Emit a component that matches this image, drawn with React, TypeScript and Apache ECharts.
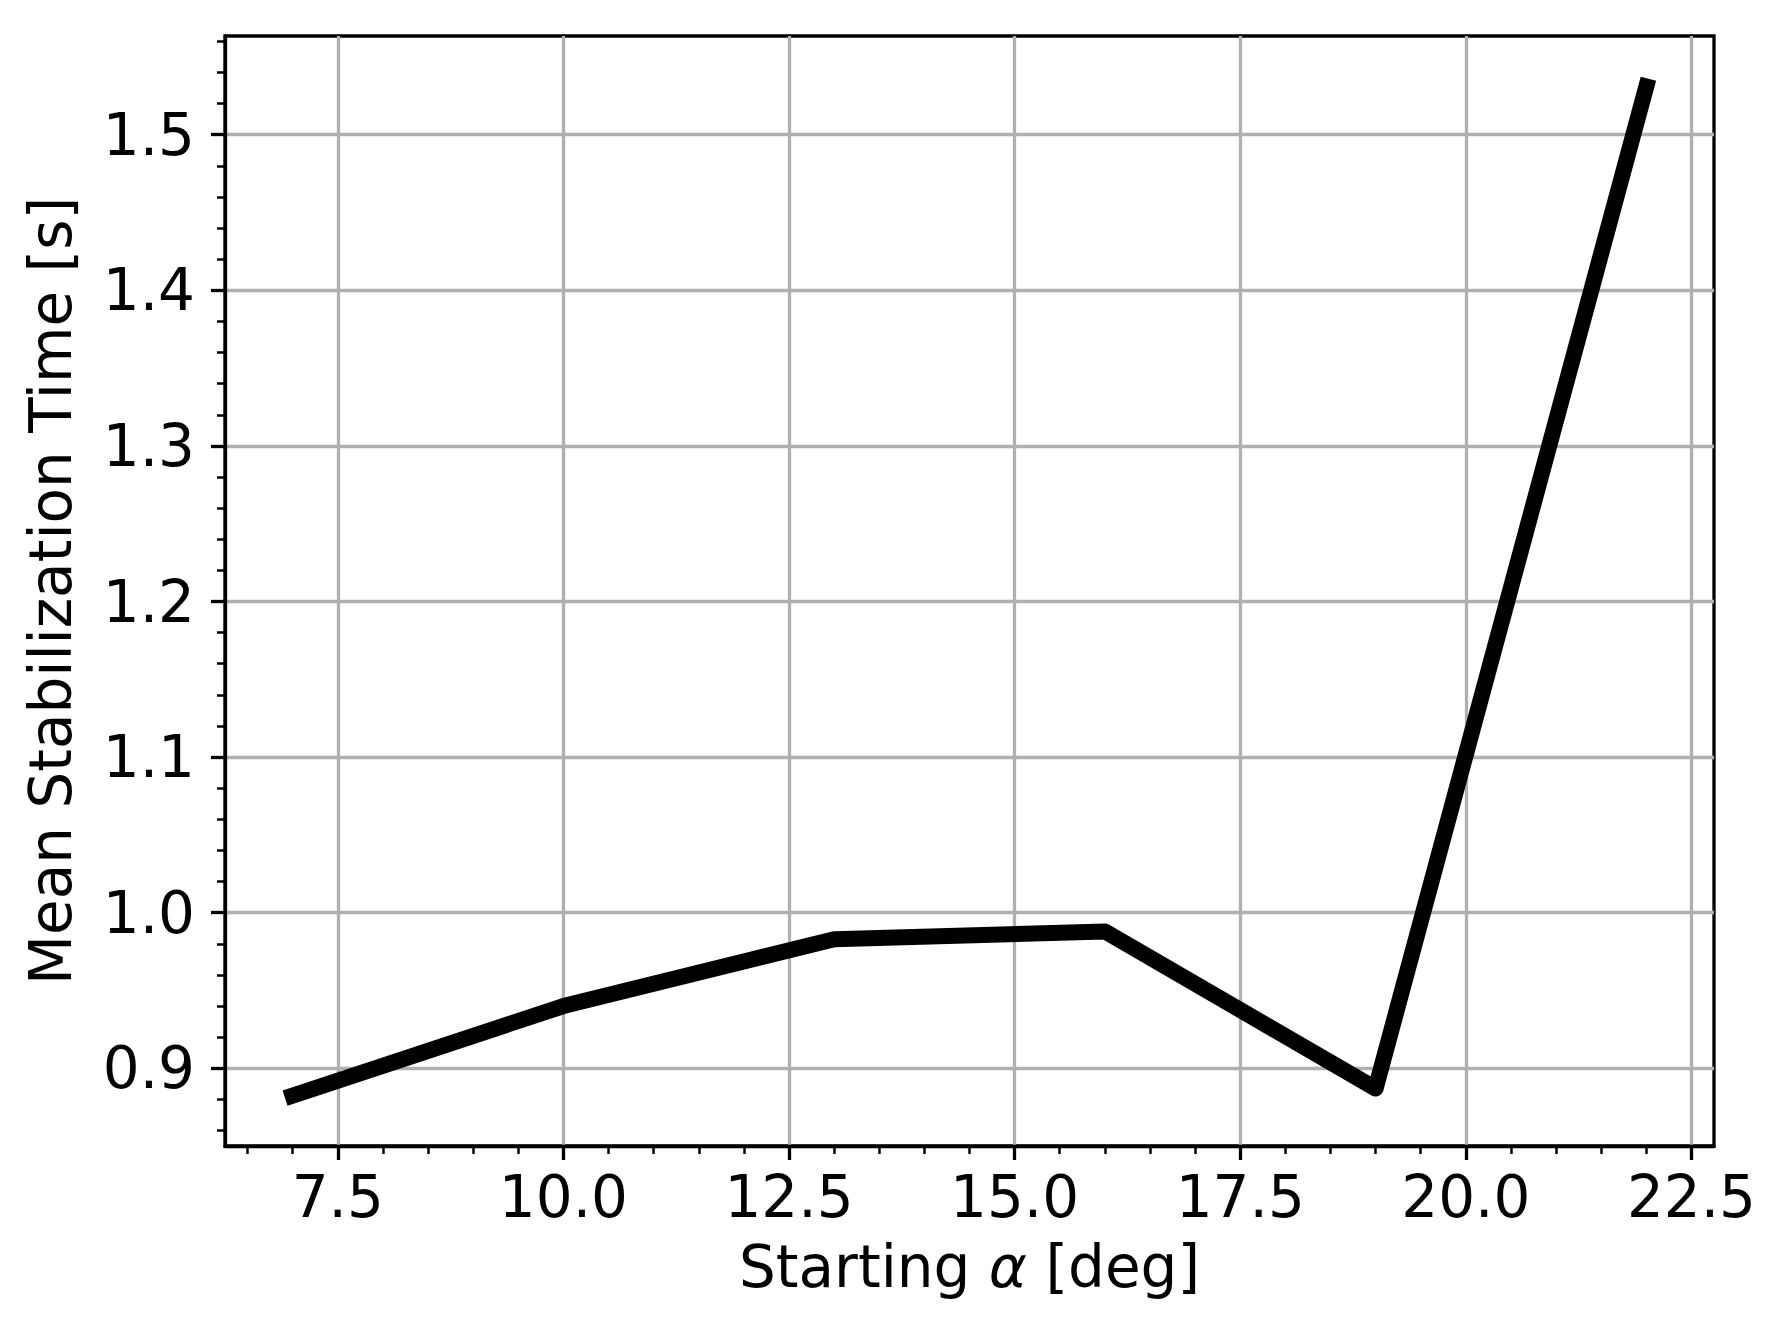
import { useEffect, useRef } from "react";
import * as echarts from "echarts";

// Starting angle of attack [deg] and mean stabilization time [s]
const startingAlpha = [7, 10, 13, 16, 19, 22];
const meanStabilizationTime = [0.8825, 0.94, 0.983, 0.988, 0.887, 1.531];

// Major tick labels
const xTickValues = [7.5, 10.0, 12.5, 15.0, 17.5, 20.0, 22.5];
const yTickValues = [0.9, 1.0, 1.1, 1.2, 1.3, 1.4, 1.5];

const FONT = "DejaVu Sans";

export default function App() {
  const chartRef = useRef<HTMLDivElement>(null);

  useEffect(() => {
    if (!chartRef.current) return;
    document.body.style.margin = "0";

    const chart = echarts.init(chartRef.current, undefined, { renderer: "svg" });

    // matplotlib-style 5% margins around the data
    const xSpan = Math.max(...startingAlpha) - Math.min(...startingAlpha);
    const ySpan =
      Math.max(...meanStabilizationTime) - Math.min(...meanStabilizationTime);
    const xMin = Math.min(...startingAlpha) - 0.05 * xSpan;
    const xMax = Math.max(...startingAlpha) + 0.05 * xSpan;
    const yMin = Math.min(...meanStabilizationTime) - 0.05 * ySpan;
    const yMax = Math.max(...meanStabilizationTime) + 0.05 * ySpan;

    const data = startingAlpha.map((x, i) => [x, meanStabilizationTime[i]]);

    const gridLine = { show: true, lineStyle: { color: "#b0b0b0", width: 3.3 } };

    chart.setOption({
      animation: false,
      backgroundColor: "#ffffff",
      textStyle: { fontFamily: FONT },
      grid: {
        left: 225,
        right: 66,
        top: 36,
        bottom: 192,
        show: true,
        borderColor: "#000000",
        borderWidth: 3.3,
        backgroundColor: "transparent",
      },
      xAxis: {
        type: "value",
        min: xMin,
        max: xMax,
        minInterval: 2.5,
        maxInterval: 2.5,
        name: "Starting {a|α} [deg]",
        nameLocation: "middle",
        nameGap: 92,
        nameMoveOverlap: false,
        nameTextStyle: {
          color: "#000000",
          fontSize: 58,
          fontFamily: FONT,
          verticalAlign: "top",
          rich: {
            a: { fontSize: 58, fontFamily: FONT, fontStyle: "italic", color: "#000000" },
          },
        },
        axisLine: { show: true, lineStyle: { color: "#000000", width: 3.3 } },
        axisTick: {
          show: true,
          length: 14,
          lineStyle: { color: "#000000", width: 3.3 },
          customValues: xTickValues,
        },
        minorTick: {
          show: true,
          splitNumber: 5,
          length: 8,
          lineStyle: { color: "#000000", width: 2.5 },
        },
        axisLabel: {
          color: "#000000",
          fontSize: 58,
          fontFamily: FONT,
          margin: 22,
          customValues: xTickValues,
          showMinLabel: true,
          showMaxLabel: true,
          formatter: (v: number) => v.toFixed(1),
        },
        splitLine: gridLine,
      },
      yAxis: {
        type: "value",
        min: yMin,
        max: yMax,
        minInterval: 0.1,
        maxInterval: 0.1,
        name: "Mean Stabilization Time [s]",
        nameLocation: "middle",
        nameGap: 145,
        nameMoveOverlap: false,
        nameTextStyle: { color: "#000000", fontSize: 58, fontFamily: FONT },
        axisLine: { show: true, lineStyle: { color: "#000000", width: 3.3 } },
        axisTick: {
          show: true,
          length: 14,
          lineStyle: { color: "#000000", width: 3.3 },
          customValues: yTickValues,
        },
        minorTick: {
          show: true,
          splitNumber: 5,
          length: 8,
          lineStyle: { color: "#000000", width: 2.5 },
        },
        axisLabel: {
          color: "#000000",
          fontSize: 58,
          fontFamily: FONT,
          margin: 30,
          customValues: yTickValues,
          showMinLabel: true,
          showMaxLabel: true,
          formatter: (v: number) => v.toFixed(1),
        },
        splitLine: gridLine,
      },
      series: [
        {
          type: "line",
          data,
          symbol: "none",
          lineStyle: { color: "#000000", width: 16, cap: "square", join: "round" },
          z: 5,
        },
      ],
      // the source image is cropped just under the x-axis title
      graphic: [
        {
          type: "rect",
          shape: { x: 0, y: 1305, width: 1780, height: 40 },
          style: { fill: "#ffffff" },
          z: 100,
        },
      ],
    });

    const handleResize = () => chart.resize();
    window.addEventListener("resize", handleResize);

    return () => {
      window.removeEventListener("resize", handleResize);
      chart.dispose();
    };
  }, []);

  return <div ref={chartRef} style={{ width: 1780, height: 1338 }} />;
}
